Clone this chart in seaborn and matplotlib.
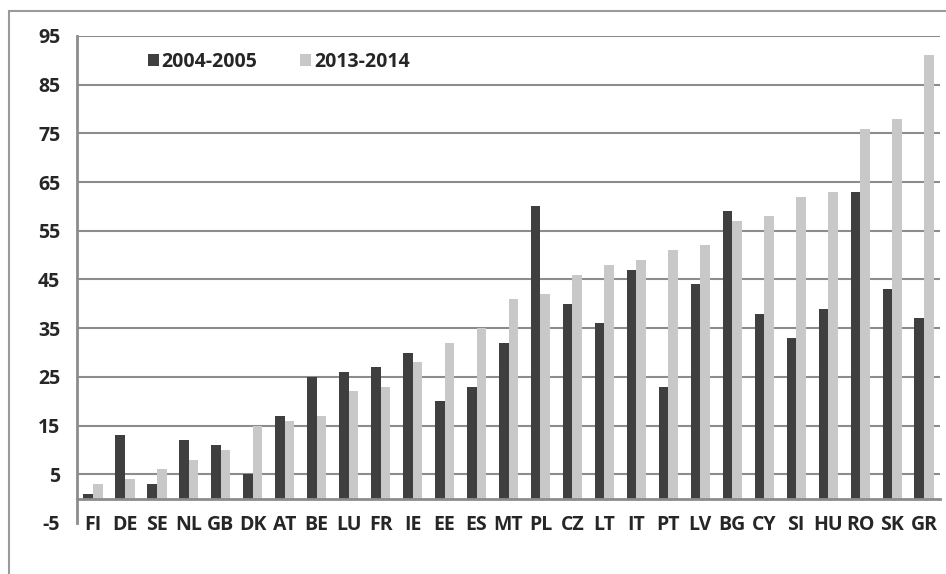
import pandas as pd
import seaborn as sns
import matplotlib.pyplot as plt
from matplotlib.patches import Rectangle
from matplotlib.ticker import FixedLocator

countries = ["FI", "DE", "SE", "NL", "GB", "DK", "AT", "BE", "LU", "FR", "IE", "EE", "ES", "MT",
             "PL", "CZ", "LT", "IT", "PT", "LV", "BG", "CY", "SI", "HU", "RO", "SK", "GR"]
v2004 = [1, 13, 3, 12, 11, 5, 17, 25, 26, 27, 30, 20, 23, 32,
         60, 40, 36, 47, 23, 44, 59, 38, 33, 39, 63, 43, 37]
v2013 = [3, 4, 6, 8, 10, 15, 16, 17, 22, 23, 28, 32, 35, 41,
         42, 46, 48, 49, 51, 52, 57, 58, 62, 63, 76, 78, 91]
periods = ["2004-2005", "2013-2014"]
yticks = [-5, 5, 15, 25, 35, 45, 55, 65, 75, 85, 95]

df = pd.DataFrame({
    "country": countries * 2,
    "value": v2004 + v2013,
    "period": [periods[0]] * len(countries) + [periods[1]] * len(countries),
})

sns.set_style("white")
plt.rcParams["font.family"] = ["Open Sans", "DejaVu Sans"]
plt.rcParams["font.weight"] = "bold"

fig = plt.figure(figsize=(9.46, 5.74), dpi=100)
ax = fig.add_axes([0.0814, 0.0889, 0.9123, 0.8484])

sns.barplot(data=df, x="country", y="value", hue="period",
            palette=["#3f3f3f", "#c8c8c8"], width=0.6, gap=0,
            edgecolor="none", ax=ax)

gridcol = "#8c8c8c"
ax.set_ylim(-5, 95)
ax.set_xlim(-0.5, len(countries) - 0.5)
ax.set_yticks(yticks)
ax.set_yticklabels([str(t) for t in yticks], fontsize=14, fontweight="bold")
ax.yaxis.grid(True, color=gridcol, linewidth=1.5)
ax.yaxis.get_gridlines()[0].set_visible(False)
ax.set_axisbelow(True)

# category axis crosses at zero
ax.spines["bottom"].set_position(("data", 0))
ax.spines["bottom"].set_color(gridcol)
ax.spines["bottom"].set_linewidth(2)
ax.spines["left"].set_color(gridcol)
ax.spines["left"].set_linewidth(2)
ax.spines["top"].set_visible(False)
ax.spines["right"].set_visible(False)

ax.xaxis.set_minor_locator(FixedLocator([i + 0.5 for i in range(len(countries) - 1)]))
ax.tick_params(axis="x", which="minor", length=5, width=1.5, color=gridcol, direction="out")
ax.tick_params(axis="x", which="major", length=0, pad=12)
ax.set_xticks(range(len(countries)))
ax.set_xticklabels(countries, fontsize=14, fontweight="bold")
ax.tick_params(axis="y", length=6, width=1.5, color=gridcol, direction="out", pad=6)
ax.set_xlabel("")
ax.set_ylabel("")

ax.legend(loc="center left", bbox_to_anchor=(0.062, 0.947), ncol=2, frameon=False,
          handlelength=0.55, handleheight=0.55, handletextpad=0.15, columnspacing=2.2,
          prop={"size": 14, "weight": "bold"})

fig.patches.append(Rectangle((9 / 946, -0.05), 1.1, 1.05 - 11 / 574, transform=fig.transFigure,
                             fill=False, edgecolor="#9a9a9a", linewidth=1.5))

fig.savefig("out.png", dpi=100)
